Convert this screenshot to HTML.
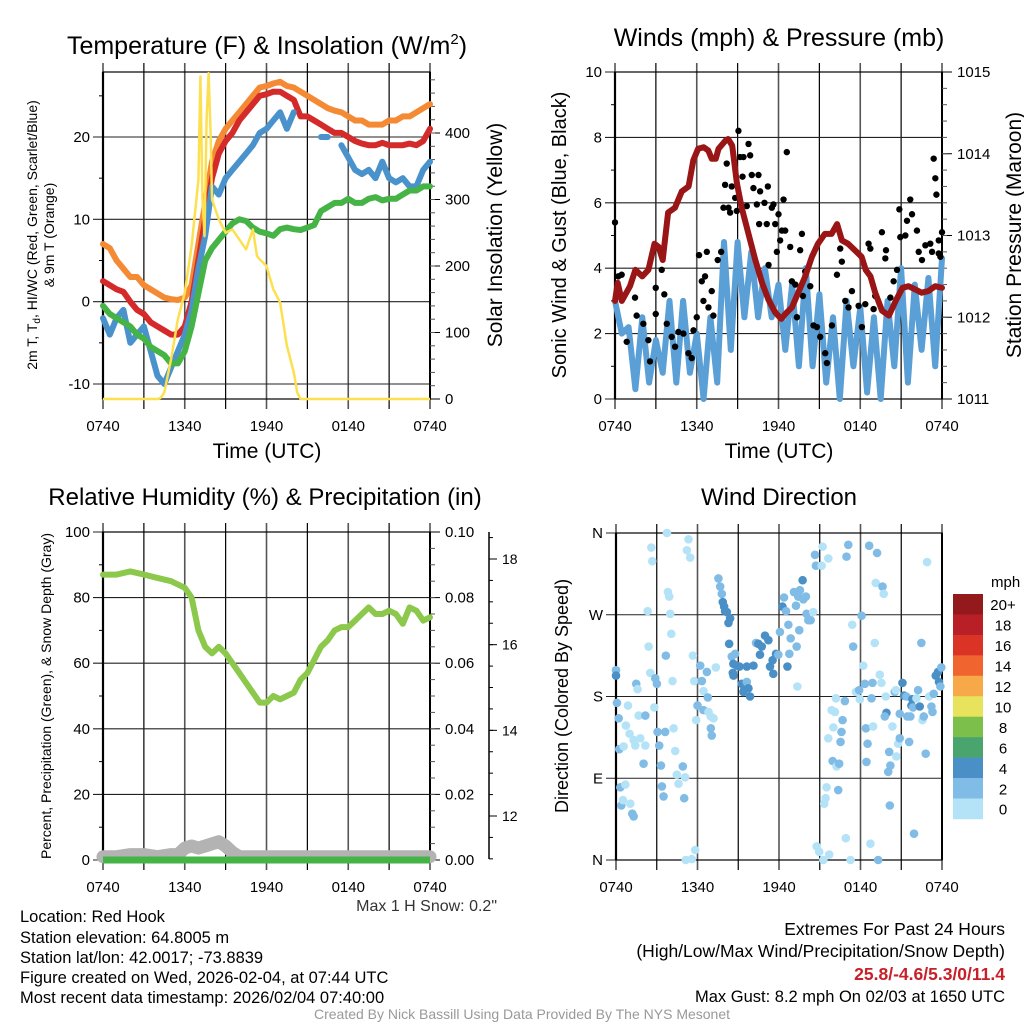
<!DOCTYPE html>
<html><head><meta charset="utf-8"><style>
html,body{margin:0;padding:0;background:#fff}
svg{display:block;font-family:"Liberation Sans",sans-serif}
</style></head><body>
<svg id="c" width="1024" height="1024" viewBox="0 0 1024 1024">
<g id="tl"></g>
<g id="tr"></g>
<g id="bl"></g>
<g id="br"></g>
<text x="267" y="54" font-size="25" text-anchor="middle">Temperature (F) &amp; Insolation (W/m<tspan dy="-10" font-size="15">2</tspan><tspan dy="10">)</tspan></text>
<text x="779" y="46" font-size="25" text-anchor="middle">Winds (mph) &amp; Pressure (mb)</text>
<text x="265" y="505" font-size="24" text-anchor="middle">Relative Humidity (%) &amp; Precipitation (in)</text>
<text x="779" y="505" font-size="24" text-anchor="middle">Wind Direction</text>
<text transform="translate(37,235) rotate(-90)" font-size="14" text-anchor="middle">2m T, T<tspan font-size="10" dy="3">d</tspan><tspan dy="-3">, HI/WC (Red, Green, Scarlet/Blue)</tspan></text>
<text transform="translate(54,235) rotate(-90)" font-size="14" text-anchor="middle">&amp; 9m T (Orange)</text>
<text transform="translate(502,235) rotate(-90)" font-size="21" text-anchor="middle">Solar Insolation (Yellow)</text>
<text x="267" y="458" font-size="21" text-anchor="middle">Time (UTC)</text>
<text x="779" y="458" font-size="21" text-anchor="middle">Time (UTC)</text>
<text transform="translate(566,235) rotate(-90)" font-size="20" text-anchor="middle">Sonic Wind &amp; Gust (Blue, Black)</text>
<text transform="translate(1021,235) rotate(-90)" font-size="21" text-anchor="middle">Station Pressure (Maroon)</text>
<text transform="translate(51,696) rotate(-90)" font-size="14" text-anchor="middle">Percent, Precipitation (Green), &amp; Snow Depth (Gray)</text>
<text transform="translate(568,696) rotate(-90)" font-size="18" text-anchor="middle">Direction (Colored By Speed)</text>
<text x="497" y="911" font-size="16" fill="#333" text-anchor="end">Max 1 H Snow: 0.2"</text>
<g font-size="16.5">
<text x="20" y="922">Location: Red Hook</text>
<text x="20" y="943">Station elevation: 64.8005 m</text>
<text x="20" y="963">Station lat/lon: 42.0017; -73.8839</text>
<text x="20" y="983">Figure created on Wed, 2026-02-04, at 07:44 UTC</text>
<text x="20" y="1003">Most recent data timestamp: 2026/02/04 07:40:00</text>
</g>
<g font-size="17.5" text-anchor="end">
<text x="1005" y="935">Extremes For Past 24 Hours</text>
<text x="1005" y="957">(High/Low/Max Wind/Precipitation/Snow Depth)</text>
<text x="1005" y="980" fill="#c8202a" font-weight="bold">25.8/-4.6/5.3/0/11.4</text>
<text x="1005" y="1002" font-size="16.5">Max Gust: 8.2 mph On 02/03 at 1650 UTC</text>
</g>
<text x="522" y="1019" font-size="14" fill="#999" text-anchor="middle">Created By Nick Bassill Using Data Provided By The NYS Mesonet</text>
</svg>
<script>
const xTickLabels=["0740","1340","1940","0140","0740"];
const halfHours=[0,0.5,1,1.5,2,2.5,3,3.5,4,4.5,5,5.5,6,6.5,7,7.5,8,8.5,9,9.5,10,10.5,11,11.5,12,12.5,13,13.5,14,14.5,15,15.5,16,16.5,17,17.5,18,18.5,19,19.5,20,20.5,21,21.5,22,22.5,23,23.5,24];
const temp9m=[7,6.5,5,4,3,3,2,1.5,1,0.5,0.3,0.2,0.5,2,7,12,17,19.5,21,22,23,24,25,26,26.2,26.5,26.7,26.2,26,25.5,25,24.5,24,23.5,23.2,23,22.5,22,22,21.5,21.5,21.5,22,22,22.5,22.5,23,23.5,24];
const temp2m=[2.5,2,1.5,1.2,0,-1,-1.5,-2.5,-3,-3.5,-4,-4,-3,0,5,10,15,18,19.5,20.5,22,23,24,25,25.2,25.5,25.5,25,24.5,22.5,22.5,22,21.5,21,20.5,20.5,20,19.5,19.2,19,19,19.3,19,19,19,19.2,19,19.5,21];
const windChill=[-2,-4,-2,-1,-5,-4,-3,-6,-9,-10,-8,-6,-4,-1,4,8,14,13,15,16,17,18,19,20.5,21,22,23,21,23,null,null,null,20,20,null,19,17.5,16,15.5,16,15,17,15,14.5,15,14,14,16,17];
const dewPoint=[-0.5,-1.5,-2,-2.5,-3,-4,-4.5,-5.5,-6,-6.5,-7.5,-7.5,-6,-3,1,5,6.5,7.5,8.5,9.5,10,9.8,9,8.5,8.3,8,8.8,9,8.8,8.7,9,9.3,11,11.5,12,12,12.5,12,12,12.5,12.7,12.3,12.5,12.5,13,13.5,13.5,14,14];
const solarTime=[0,4,4.25,4.5,5,5.5,6,6.5,7,7.15,7.3,7.45,7.6,7.75,7.9,8,8.5,9,9.5,10,10.5,11,11.3,11.5,12,12.5,13,13.5,14,14.25,14.5,24];
const solarVal=[0,0,2,10,60,120,160,230,330,485,300,245,420,490,400,300,270,250,255,240,225,255,215,210,200,165,145,80,40,10,0,0];
const windSpeed=[3,2,2.2,0.3,2.5,0.5,1.8,0.8,3,0.5,3,0.8,2,0,2.5,0.5,4.8,1.5,4.8,2.5,4.5,2.5,4,2.5,3.5,1.5,3.5,1,4,1,3.2,0.5,2.5,0,3,1,2.8,0.2,2.5,0,3,1,4,0.5,3.5,1.5,3.7,1,4.3];
const pressureTime=[0,0.2,0.5,1.1,1.5,2,2.45,2.9,3.2,3.5,3.9,4.4,4.9,5.4,5.75,6.1,6.5,6.85,7.1,7.4,7.6,8.1,8.3,8.6,8.95,9.3,9.8,10.3,10.8,11.25,11.75,12.2,12.5,12.98,13.5,13.96,14.45,14.9,15.4,15.9,16.3,16.65,17.1,17.6,18.1,18.4,18.75,19.1,19.6,20.1,20.6,21.1,21.55,22.05,22.5,23,23.5,24];
const pressure=[1012.2,1012.42,1012.2,1012.38,1012.58,1012.5,1012.58,1012.9,1012.86,1012.7,1013.28,1013.34,1013.54,1013.6,1013.92,1014.06,1014.08,1014.04,1013.94,1013.94,1014.06,1014.16,1014.18,1014.1,1013.64,1013.34,1013.02,1012.7,1012.42,1012.22,1012.06,1011.98,1012.04,1012.12,1012.32,1012.5,1012.74,1012.9,1013.02,1013.02,1013.14,1012.94,1012.9,1012.82,1012.74,1012.58,1012.5,1012.3,1012.08,1012.02,1012.2,1012.36,1012.38,1012.34,1012.3,1012.32,1012.38,1012.36];
const gustTime=[0,0.24,0.49,1.47,0.86,1.59,2.08,2.45,2.57,2.99,2.99,3.43,3.62,3.8,4.16,4.41,4.65,5.02,5.39,5.63,5.76,6.0,6.17,6.37,6.61,6.74,6.49,6.86,7.1,7.22,7.54,7.79,7.96,8.08,8.2,8.33,8.45,8.57,8.82,8.94,9.06,9.18,9.43,9.36,9.67,9.8,9.92,10.04,10.16,10.41,10.53,10.65,10.58,10.97,11.14,11.22,11.27,11.51,11.63,11.76,11.88,12.0,12.12,12.25,12.37,12.49,12.61,12.86,12.98,13.23,13.35,13.59,13.72,13.79,13.96,14.33,14.57,14.82,15.06,15.43,15.55,15.92,16.29,16.53,16.65,16.9,17.14,17.39,17.88,18.12,18.37,18.61,18.74,18.98,19.1,19.59,19.84,19.89,20.21,20.45,20.7,20.87,20.94,21.31,21.43,21.67,21.8,22.16,22.29,22.53,22.78,23.14,23.27,23.39,23.51,23.59,23.76,23.88,24.0,23.76];
const gustVal=[5.4,3.75,3.8,3.1,1.75,2.55,2.3,1.8,1.15,3.4,2.6,3.95,3.2,2.3,1.9,1.6,2.05,2.0,1.4,1.25,2.1,2.5,4.4,3.6,3.75,4.5,3.0,2.8,3.3,2.55,4.25,4.5,5.85,6.55,7.2,5.85,5.7,6.5,6.15,5.75,8.2,7.4,7.4,6.8,5.9,7.8,7.45,6.85,6.45,5.95,6.85,6.35,5.35,6.0,5.35,6.5,4.1,5.85,5.95,5.35,4.5,5.65,4.85,5.15,6.1,5.15,7.55,4.65,3.6,3.5,2.5,4.55,5.05,3.15,3.9,3.45,2.25,2.2,1.9,1.4,1.1,2.25,3.8,4.6,4.2,3.0,2.8,3.3,2.85,2.2,2.9,4.75,4.6,2.75,3.15,5.1,4.3,4.55,3.1,3.6,3.95,5.8,4.95,5.0,5.45,6.1,5.65,5.15,4.5,4.25,4.7,4.75,4.5,7.35,6.75,6.25,4.85,4.35,5.1,4.45];
const rhTime=[0,1,2,3,4,5,6,6.5,7,7.5,8,8.5,9,9.5,10,10.5,11,11.5,12,12.5,13,13.5,14,14.5,15,15.5,16,16.5,17,17.5,18,18.5,19,19.5,20,20.5,21,21.5,22,22.5,23,23.5,24];
const rhVal=[87,87,88,87,86,85,83,80,70,65,63,65,63,60,57,54,51,48,48,50,49,50,51,55,57,61,65,67,70,71,71,73,75,77,75,75,76,75,72,77,76,73,74];
const hours=[0,1,2,3,4,5,6,7,8,9,10,11,12,13,14,15,16,17,18,19,20,21,22,23,24];
const precipVal=[0,0,0,0,0,0,0,0,0,0,0,0,0,0,0,0,0,0,0,0,0,0,0,0,0];
const snowTime=[0,1,2,3,4,5,5.5,6,6.5,7,7.5,8,8.5,9,9.5,10,12,16,20,24];
const snowVal=[11.05,11.05,11.1,11.1,11.05,11.1,11.1,11.25,11.3,11.25,11.3,11.35,11.4,11.3,11.15,11.05,11.05,11.05,11.05,11.05];
const dirTime=[0,0,0.07,0.2,0.24,0.56,0.88,0.73,1.0,1.3,1.42,1.79,2.16,1.49,1.59,1.67,2.16,2.03,0.32,0.69,0.39,0.51,1.05,1.2,1.3,2.33,2.6,2.67,2.4,2.52,2.89,3.01,2.82,3.06,3.18,3.31,3.38,3.5,3.62,3.67,3.75,3.82,3.92,3.99,4.07,4.16,4.24,4.36,4.48,4.6,4.92,5.02,5.09,5.34,5.22,5.46,5.66,5.76,5.9,5.83,5.14,5.58,6.2,6.32,6.44,6.69,6.76,6.0,6.44,6.81,6.98,7.18,6.98,7.05,7.35,7.54,7.67,7.79,7.86,7.96,8.03,8.16,8.4,8.28,8.33,8.52,8.77,8.64,8.89,9.09,8.6,8.65,9.26,9.43,9.63,9.75,9.87,9.38,9.63,10.12,10.31,10.48,10.6,10.73,10.97,11.22,11.34,11.58,11.53,11.78,11.95,12.07,12.25,12.37,12.52,12.62,12.76,12.69,12.86,13.1,13.25,13.42,13.54,13.49,13.3,13.35,13.74,13.79,13.98,14.03,14.16,14.33,14.52,14.65,14.72,15.21,15.14,15.63,17.1,16.97,14.77,14.96,15.26,15.7,15.5,15.43,15.33,15.63,15.87,16.12,16.19,16.0,15.95,16.24,16.43,16.53,16.6,16.68,16.36,16.85,16.92,17.27,17.39,17.46,17.66,17.9,17.95,18.08,18.2,18.32,18.4,18.52,18.44,18.64,18.73,18.81,18.88,18.93,19.05,19.12,19.22,19.3,19.42,19.54,19.62,19.71,19.86,19.91,19.79,20.11,20.04,20.16,20.2,20.35,20.52,20.6,20.64,20.77,20.89,20.89,21.09,21.21,21.38,21.45,21.58,21.67,21.75,21.82,21.87,21.94,22.12,22.24,22.36,22.48,22.56,22.66,22.8,22.9,23.05,23.22,23.3,23.39,23.54,23.71,23.78,23.95,23.88];
const dirDeg=[209,203,173,156,122,125,170,148,139,132,126,134,126,194,188,159,159,106,80,83,60,66,62,51,48,274,344,329,235,206,200,194,168,141,126,104,81,70,141,225,360,295,290,271,249,197,145,120,94,84,103,68,91,353,341,333,225,197,154,11,0,1,214,197,186,207,179,170,165,163,158,156,145,137,212,310,301,293,284,279,274,273,266,261,238,224,227,216,214,213,206,203,194,187,196,189,180,185,213,214,239,238,226,235,247,242,213,205,220,227,226,251,279,289,274,213,227,259,244,295,280,290,297,253,235,191,308,287,290,271,264,264,273,336,324,345,324,332,347,334,15,9,0,6,80,68,62,134,165,163,178,146,109,103,106,130,141,154,77,175,24,0,259,235,185,187,177,269,214,194,145,128,108,346,18,178,195,147,239,305,338,0,204,195,301,293,180,162,158,119,97,60,104,147,185,187,114,128,134,161,195,181,180,158,130,158,170,177,168,29,178,187,169,239,154,158,117,328,180,169,163,183,203,207,196,212,191];
const dirSpeed=[3,4.5,3,3,3,1,1,1,1,1,1,1,1,3,1,1,3,3,3,1,3,1,1,3,3,1,1,1,1,1,3,3,1,3,3,3,3,3,3,3,1,1,1,1,1,1,1,1,1,1,3,3,1,1,1,1,1,1,1,1,1,1,3,3,1,3,3,3,3,1,1,1,3,3,1,3,3,3,4.5,4.5,4.5,4.5,4.5,4.5,4.5,3,3,4.5,4.5,4.5,4.5,4.5,4.5,4.5,3,4.5,4.5,4.5,4.5,4.5,3,4.5,4.5,4.5,4.5,4.5,4.5,4.5,4.5,4.5,3,3,4.5,3,3,4.5,3,3,3,3,3,3,3,3,3,1,4.5,3,3,3,3,3,1,3,3,1,1,1,3,3,1,1,1,1,1,1,1,1,1,1,1,1,3,1,3,3,3,3,3,3,1,1,1,3,1,3,1,3,1,3,3,3,3,3,1,3,3,1,1,1,3,3,1,1,3,1,1,4.5,3,3,3,3,3,1,3,1,1,1,3,3,4.5,4.5,3,3,3,3,4.5,4.5,3,3,1,3,4.5,3,1,3,3,1,1,3,3,3,4.5,4.5,4.5,3,3,3];
const speedBins=["0","2","4","6","8","10","12","14","16","18","20+"];
const speedColors=["#b4e3f8","#80bce6","#4a90c6","#4aa46e","#7cc04b","#e8e35c","#f7a849","#f06430","#dc3327","#b81f26","#94191c"];

const NS="http://www.w3.org/2000/svg";
function el(parent,tag,attrs){const e=document.createElementNS(NS,tag);for(const k in attrs)e.setAttribute(k,attrs[k]);parent.appendChild(e);return e;}
function lin(d0,d1,r0,r1){return v=>r0+(v-d0)*(r1-r0)/(d1-d0);}
function pathFrom(xs,ys,fx,fy){let d="",pen=false;for(let i=0;i<xs.length;i++){if(ys[i]===null||ys[i]===undefined){pen=false;continue;}d+=(pen?"L":"M")+fx(xs[i]).toFixed(1)+","+fy(ys[i]).toFixed(1);pen=true;}return d;}

function frame(g,x0,x1,y0,y1,yTicks,fy,yLabels,rightTicks,fr,rLabels,rMinor,leftMinor){
  const fx=lin(0,24,x0,x1);
  for(let i=0;i<=8;i++){const x=fx(i*3);
    const ln=el(g,"line",{x1:x,y1:y0-9,x2:x,y2:y1+10,stroke:i%2?"#000":"#555","stroke-width":i%2?1.2:1.6});
    
    
  }
  yTicks.forEach((v,i)=>{const y=fy(v);
    const ln=el(g,"line",{x1:x0-10,y1:y,x2:x1,y2:y,stroke:"#222","stroke-width":1.1});
    
    
    if(yLabels){const t=el(g,"text",{x:x0-13,y:y+5,"font-size":15,"text-anchor":"end"});t.textContent=yLabels[i];
    
    }
  });
  (leftMinor||[]).forEach(v=>{const y=fy(v);const ln=el(g,"line",{x1:x0-4,y1:y,x2:x0,y2:y,stroke:"#000"});
    
    });
  el(g,"rect",{x:x0,y:y0,width:x1-x0,height:y1-y0,fill:"none",stroke:"#000","stroke-width":1.2});
  el(g,"line",{x1:x0,y1:y0,x2:x0,y2:y1,stroke:"#000","stroke-width":2.2});
  el(g,"line",{x1:x1,y1:y0,x2:x1,y2:y1,stroke:"#000","stroke-width":2});
  if(rightTicks){
    rightTicks.forEach((v,i)=>{const y=fr(v);const ln=el(g,"line",{x1:x1,y1:y,x2:x1+10,y2:y,stroke:"#000"});
      
      
      const t=el(g,"text",{x:x1+15,y:y+5,"font-size":15});t.textContent=rLabels[i];
      
      });
    (rMinor||[]).forEach(v=>{const y=fr(v);const ln=el(g,"line",{x1:x1,y1:y,x2:x1+5,y2:y,stroke:"#555"});
      
      });
  }
  xTickLabels.forEach((s,i)=>{const t=el(g,"text",{x:fx(i*6),y:y1+32,"font-size":15,"text-anchor":"middle"});t.textContent=s;
    
    });
  return fx;
}
function range(a,b,s){const r=[];for(let v=a;v<=b+1e-9;v+=s)r.push(+v.toFixed(4));return r;}

// Temperature panel
(function(){
  const g=document.getElementById("tl");
  const fy=lin(-10,20,384,137), fr=lin(0,400,399,133);
  const fx=frame(g,103,430,72,399,[-10,0,10,20],fy,["-10","0","10","20"],[0,100,200,300,400],fr,["0","100","200","300","400"],range(20,480,20),[-5,5,15,25]);
  const series=[[temp9m,"#f58a35","temp-9m-line"],[temp2m,"#d42a2a","temp-2m-line"],[windChill,"#4a92cc","wind-chill-line"],[dewPoint,"#45b345","dewpoint-line"]];
  series.forEach(s=>{const p=el(g,"path",{d:pathFrom(halfHours,s[0],fx,fy),fill:"none",stroke:s[1],"stroke-width":6,"stroke-linejoin":"round","stroke-linecap":"round"});
    
    });
  const p=el(g,"path",{d:pathFrom(solarTime,solarVal,fx,fr),fill:"none",stroke:"#fde050","stroke-width":2.5,"stroke-linejoin":"round"});
  
  
})();

// Winds panel
(function(){
  const g=document.getElementById("tr");
  const fy=lin(0,10,399,72), fr=lin(1011,1015,399,72);
  const fx=frame(g,615,942,72,399,[0,2,4,6,8,10],fy,["0","2","4","6","8","10"],[1011,1012,1013,1014,1015],fr,["1011","1012","1013","1014","1015"],range(1011.2,1014.8,0.2),[1,3,5,7,9]);
  const wp=el(g,"path",{d:pathFrom(halfHours,windSpeed,fx,fy),fill:"none",stroke:"#5a9fd6","stroke-width":6,"stroke-linejoin":"round","stroke-linecap":"round"});
  
  
  gustTime.forEach((t,i)=>{const c=el(g,"circle",{cx:fx(t),cy:fy(gustVal[i]),r:3.2,fill:"#000"});
    
    });
  const p=el(g,"path",{d:pathFrom(pressureTime,pressure,fx,fr),fill:"none",stroke:"#9a1515","stroke-width":6,"stroke-linejoin":"round","stroke-linecap":"round"});
  
  
})();

// Humidity panel
(function(){
  const g=document.getElementById("bl");
  const fy=lin(0,100,860,532), fr=lin(0,0.1,860,532), fs=lin(12,18,816,559);
  const fx=frame(g,103,430,532,860,[0,20,40,60,80,100],fy,["0","20","40","60","80","100"],[0,0.02,0.04,0.06,0.08,0.1],fr,["0.00","0.02","0.04","0.06","0.08","0.10"],range(0.005,0.095,0.005),[10,30,50,70,90]);
  el(g,"line",{x1:489,y1:532,x2:489,y2:859,stroke:"#000","stroke-width":1.5});
  [12,14,16,18].forEach(v=>{const ln=el(g,"line",{x1:489,y1:fs(v),x2:497,y2:fs(v),stroke:"#000"});
    
    
    const t=el(g,"text",{x:502,y:fs(v)+5,"font-size":14});t.textContent=String(v);
    
    });
  range(11,18.5,0.5).forEach(v=>{const ln=el(g,"line",{x1:489,y1:fs(v),x2:493,y2:fs(v),stroke:"#000"});
    
    });
  const sp=el(g,"path",{d:pathFrom(snowTime,snowVal,fx,fs),fill:"none",stroke:"#b3b3b3","stroke-width":13,"stroke-linejoin":"round","stroke-linecap":"round"});
  
  
  const pp=el(g,"path",{d:pathFrom(hours,precipVal,fx,fr),fill:"none",stroke:"#45b345","stroke-width":7});
  
  
  const rp=el(g,"path",{d:pathFrom(rhTime,rhVal,fx,fy),fill:"none",stroke:"#8cc84b","stroke-width":6,"stroke-linejoin":"round","stroke-linecap":"round"});
  
  
})();

// Wind direction panel
(function(){
  const g=document.getElementById("br");
  const fy=lin(0,360,860,533);
  const fx=frame(g,616,942,533,860,[0,90,180,270,360],fy,["N","E","S","W","N"],null);
  function col(s){let k=Math.floor(s/2);if(k>10)k=10;if(k<0)k=0;return speedColors[k];}
  dirTime.forEach((t,i)=>{const c=el(g,"circle",{cx:fx(t),cy:fy(dirDeg[i]),r:4.3,fill:col(dirSpeed[i])});
    
    });
  const lg=el(g,"g",{});
  
  
  const tt=el(lg,"text",{x:991,y:587,"font-size":15});tt.textContent="mph";
  const h=20.45;
  for(let i=0;i<11;i++){const k=10-i,y=594+i*h;
    const r=el(lg,"rect",{x:953,y:y,width:30,height:h+0.3,fill:speedColors[k]});
    
    
    const t=el(lg,"text",{x:1003,y:y+h/2+6,"font-size":15,"text-anchor":"middle"});t.textContent=speedBins[k];
    
    
  }
})();
</script>
</body></html>
